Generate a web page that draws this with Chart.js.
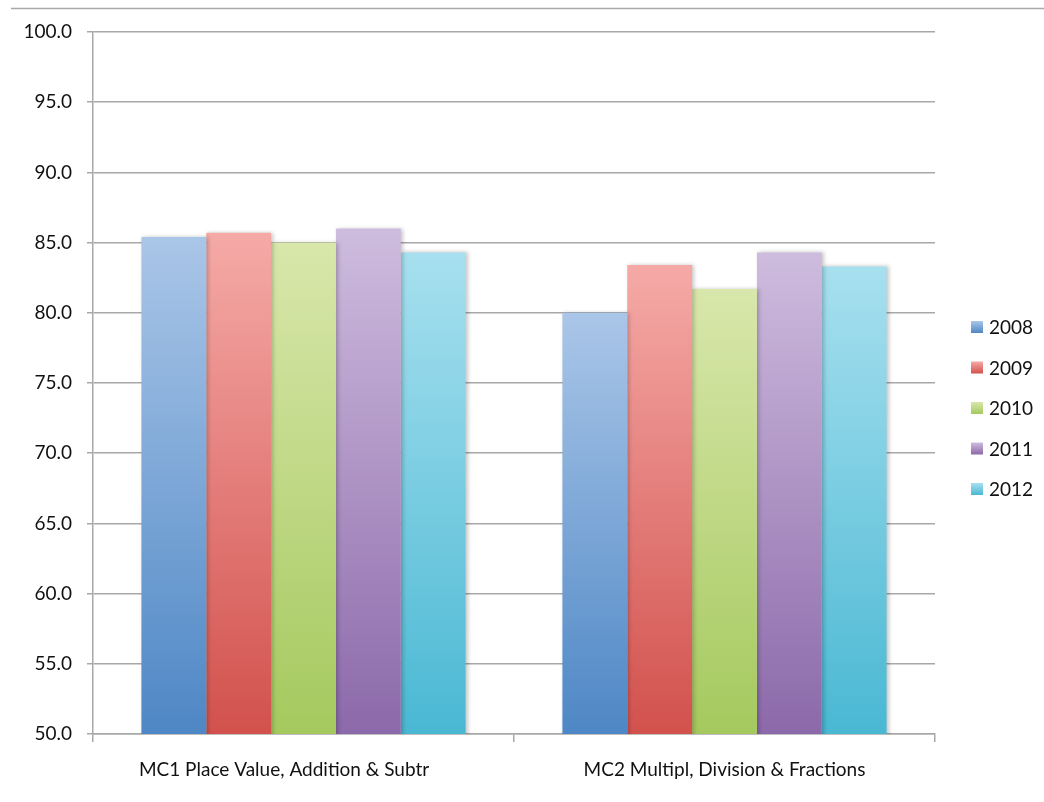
<!DOCTYPE html>
<html>
<head>
<meta charset="utf-8">
<script src="https://cdn.jsdelivr.net/npm/chart.js@4.4.1/dist/chart.umd.min.js"></script>
<style>
  html, body { margin: 0; padding: 0; background: #fff; }
  #wrap { width: 1044px; height: 802px; }
</style>
</head>
<body>
<div id="wrap"><canvas id="myChart"></canvas></div>
<script>
// the first label carries trailing blanks, as in the source sheet
const categories = ['MC1 Place Value, Addition & Subtr        ', 'MC2 Multipl, Division & Fractions'];
const years = ['2008', '2009', '2010', '2011', '2012'];
const values2008 = [85.4, 80.0];
const values2009 = [85.7, 83.4];
const values2010 = [85.0, 81.7];
const values2011 = [86.0, 84.3];
const values2012 = [84.3, 83.3];
const yTicks = [50, 55, 60, 65, 70, 75, 80, 85, 90, 95, 100];

// light top / dark bottom for each year
const fills = [
    ['#aac6e8', '#4e87c5'],
    ['#f5aaa7', '#d2514d'],
    ['#d8e7ab', '#a5c95e'],
    ['#cebcde', '#8c69aa'],
    ['#a7e0ef', '#4ab8d3'],
];

const FONT = 'Lato, "Open Sans", sans-serif';

function barFill(i) {
    return function(ctx) {
        const chart = ctx.chart;
        const area = chart.chartArea;
        if (!area || ctx.parsed == null) return fills[i][1];
        const top = chart.scales.y.getPixelForValue(ctx.parsed.y);
        const g = chart.ctx.createLinearGradient(0, top, 0, area.bottom);
        g.addColorStop(0, fills[i][0]);
        g.addColorStop(1, fills[i][1]);
        return g;
    };
}

const allValues = [values2008, values2009, values2010, values2011, values2012];

const datasets = years.map(function(y, i) {
    return {
        label: y,
        data: allValues[i],
        backgroundColor: barFill(i),
        borderWidth: 0,
        barPercentage: 1.0,
        categoryPercentage: 0.77,
    };
});

// soft shadow on the bars
const barShadow = {
    id: 'barShadow',
    beforeDatasetsDraw(chart) {
        const c = chart.ctx;
        c.save();
        c.shadowColor = 'rgba(0,0,0,0.22)';
        c.shadowBlur = 4;
        c.shadowOffsetX = 2;
        c.shadowOffsetY = 0;
    },
    afterDatasetsDraw(chart) {
        chart.ctx.restore();
    }
};

// frame line along the top and the legend on the right
const decorations = {
    id: 'decorations',
    afterDraw(chart) {
        const c = chart.ctx;
        const area = chart.chartArea;
        c.save();
        c.strokeStyle = '#a8a8a8';
        c.lineWidth = 1.5;
        c.beginPath();
        c.moveTo(11, 8.5);
        c.lineTo(chart.width, 8.5);
        c.stroke();

        const boxX = area.right + 36;
        const startY = 327;
        const step = 40.5;
        c.font = '19px ' + FONT;
        c.textBaseline = 'middle';
        c.textAlign = 'left';
        chart.data.datasets.forEach(function(ds, i) {
            const cy = startY + i * step;
            const g = c.createLinearGradient(0, cy - 6, 0, cy + 6);
            g.addColorStop(0, fills[i][0]);
            g.addColorStop(1, fills[i][1]);
            c.fillStyle = g;
            c.fillRect(boxX, cy - 6, 12, 12);
            c.fillStyle = '#111';
            c.fillText(ds.label, boxX + 18, cy + 1);
        });
        c.restore();
    }
};

new Chart(document.getElementById('myChart'), {
    type: 'bar',
    data: { labels: categories, datasets: datasets },
    options: {
        responsive: true,
        maintainAspectRatio: false,
        animation: false,
        layout: { padding: { top: 32, right: 109, left: 0, bottom: 0 } },
        plugins: {
            legend: { display: false },
            tooltip: { enabled: false },
        },
        scales: {
            x: {
                afterFit(scale) { scale.height = 68; },
                grid: {
                    offset: true,
                    drawOnChartArea: false,
                    drawTicks: true,
                    tickLength: 8,
                    color: '#a8a8a8',
                    lineWidth: 1.5,
                },
                border: { color: '#a8a8a8', width: 1.5 },
                ticks: {
                    color: '#111',
                    padding: 16,
                    font: { family: FONT, size: 19 },
                },
            },
            y: {
                min: 50,
                max: 100,
                afterFit(scale) { scale.width = 93; },
                afterBuildTicks(scale) {
                    scale.ticks = yTicks.map(function(v) { return { value: v }; });
                },
                grid: {
                    color: '#a8a8a8',
                    lineWidth: 1.5,
                    tickLength: 6,
                },
                border: { color: '#a8a8a8', width: 1.5 },
                ticks: {
                    color: '#111',
                    padding: 15,
                    font: { family: FONT, size: 19 },
                    callback: function(v) { return Number(v).toFixed(1); },
                },
            },
        },
    },
    plugins: [barShadow, decorations],
});
</script>
</body>
</html>
